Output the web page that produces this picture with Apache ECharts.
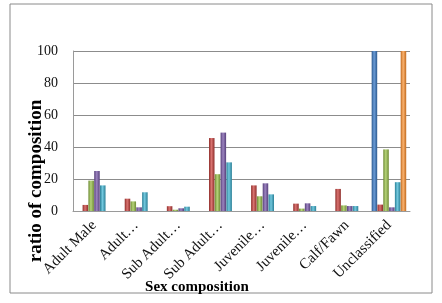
<!DOCTYPE html>
<html><head><meta charset="utf-8">
<script src="https://cdn.jsdelivr.net/npm/echarts@6/dist/echarts.min.js"></script>
<style>html,body{margin:0;padding:0;background:#fff}#c{width:442px;height:303px}</style>
</head><body><div id="c"></div>
<script>
const categories = ["Adult Male","Adult…","Sub Adult…","Sub Adult…","Juvenile…","Juvenile…","Calf/Fawn","Unclassified"];
const s1 = [0, 0, 0, 0, 0, 0, 0, 100];
const s2 = [3.8, 7.7, 3, 45.6, 16, 4.6, 13.8, 4];
const s3 = [19, 6, 0.8, 23, 9.2, 1.5, 3.5, 38.5];
const s4 = [25, 2.3, 1.7, 49, 17.3, 4.8, 3.1, 2.3];
const s5 = [16, 11.7, 2.7, 30.4, 10.4, 3.1, 3.1, 18];
const s6 = [0, 0, 0, 0, 0, 0, 0, 100];
const yTicks = [0, 20, 40, 60, 80, 100];
const xTitle = "Sex composition";
const yTitle = "ratio of composition";

const seriesData = [s1, s2, s3, s4, s5, s6];
const colors = [
  ["#2c5a8f", "#6a9bd6", "#2c5a8f"],
  ["#8e2d2a", "#d97370", "#8e2d2a"],
  ["#6d8a33", "#b6d47a", "#6d8a33"],
  ["#563f7a", "#9c84c0", "#563f7a"],
  ["#2a7f96", "#72c8de", "#2a7f96"],
  ["#c06a1e", "#fbb26e", "#c06a1e"]
];
const chart = echarts.init(document.getElementById('c'), null, {renderer: 'canvas'});
chart.setOption({
  backgroundColor: '#fff',
  animation: false,
  graphic: [
    {type: 'rect', shape: {x: 10, y: 4, width: 422, height: 289},
     style: {fill: 'none', stroke: '#8a8a8a', lineWidth: 1}, silent: true, z: -1},
    {type: 'text', x: 197, y: 287, style: {text: xTitle, font: 'bold 15px "Liberation Serif"', fill: '#000', align: 'center', verticalAlign: 'middle'}},
    {type: 'text', x: 36, y: 181, rotation: Math.PI / 2, style: {text: yTitle, font: 'bold 19px "Liberation Serif"', fill: '#000', align: 'center', verticalAlign: 'middle'}}
  ],
  grid: {left: 73, right: 32, top: 51, bottom: 92},
  xAxis: {
    type: 'category', data: categories,
    axisLine: {show: true, lineStyle: {color: '#9a9a9a'}},
    axisTick: {show: false},
    axisLabel: {rotate: 45, margin: 12, interval: 0, fontFamily: 'Liberation Serif', fontSize: 15, color: '#111'}
  },
  yAxis: {
    type: 'value', min: 0, max: 100, interval: 20,
    axisLine: {show: true, lineStyle: {color: '#9a9a9a'}},
    axisTick: {show: false},
    splitLine: {lineStyle: {color: '#8c8c8c', width: 1}},
    axisLabel: {margin: 15, fontFamily: 'Liberation Serif', fontSize: 14, color: '#111',
      formatter: v => yTicks.includes(v) ? String(v) : ''}
  },
  series: seriesData.map((d, i) => ({
    type: 'bar', data: d, barGap: '5%', barCategoryGap: '18%',
    itemStyle: {color: new echarts.graphic.LinearGradient(0, 0, 1, 0, [
      {offset: 0, color: colors[i][0]}, {offset: 0.45, color: colors[i][1]}, {offset: 1, color: colors[i][2]}
    ])}
  }))
});
</script></body></html>
